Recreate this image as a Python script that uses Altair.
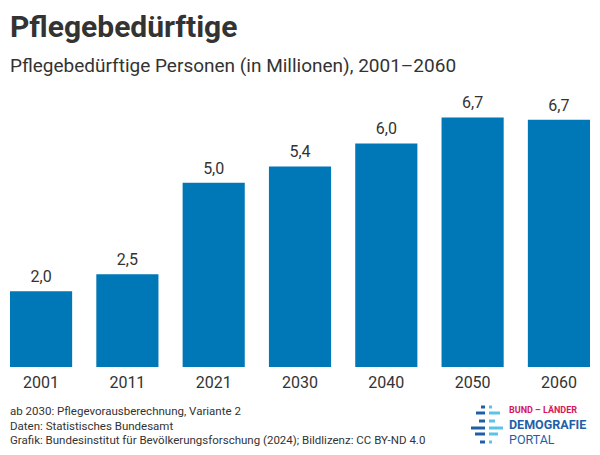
import altair as alt
import pandas as pd

years = ["2001", "2011", "2021", "2030", "2040", "2050", "2060"]
values = [2.04, 2.50, 4.96, 5.40, 6.02, 6.72, 6.66]
labels = [f"{v:.1f}".replace(".", ",") for v in values]

title_text = "Pflegebedürftige"
subtitle_text = "Pflegebedürftige Personen (in Millionen), 2001–2060"
footer_lines = [
    "ab 2030: Pflegevorausberechnung, Variante 2",
    "Daten: Statistisches Bundesamt",
    "Grafik: Bundesinstitut für Bevölkerungsforschung (2024); Bildlizenz: CC BY-ND 4.0",
]

FONT = "Roboto"
TXT = "#333333"
BAR = "#0077b6"

df = pd.DataFrame({"year": years, "value": values, "label": labels})

# plot area origin on page: (10, 107)
OX, OY = 10, 107
W, H = 580, 260

x = alt.X("year:N", sort=years,
          scale=alt.Scale(paddingInner=0.28, paddingOuter=0),
          axis=alt.Axis(title=None, labelAngle=0, domain=False, ticks=False,
                        labelFont=FONT, labelFontSize=16, labelColor=TXT,
                        labelBaseline="alphabetic", labelPadding=20))
y = alt.Y("value:Q", scale=alt.Scale(domain=[0, 7], nice=False, zero=True),
          axis=None)

bars = alt.Chart(df).mark_bar(color=BAR).encode(x=x, y=y)
vals = alt.Chart(df).mark_text(font=FONT, fontSize=16, color=TXT, dy=-9,
                               baseline="alphabetic").encode(x=x, y=y, text="label:N")

one = alt.Data(values=[{}])

def txt(text, px, py, size, weight="normal", color=TXT, align="left"):
    return alt.Chart(one).mark_text(
        text=text, font=FONT, fontSize=size, fontWeight=weight, color=color,
        align=align, baseline="alphabetic"
    ).encode(x=alt.value(px - OX), y=alt.value(py - OY))

layers = [bars, vals,
          txt(title_text, 10, 37, 30, "bold"),
          txt(subtitle_text, 10, 72, 19)]
for i, line in enumerate(footer_lines):
    layers.append(txt(line, 10, 415 + i * 14.5, 11.5))

# logo
dark, light = "#1f5fa8", "#5bc4e6"
logo_rows = [
    (407, 481, 485, 489, 492),
    (413, 476, 485, 489, 500),
    (421, 479, 485, 489, 495),
    (428, 471, 485, 489, 503),
    (434, 475, 485, 489, 498),
    (442, 480, 485, 489, 492),
]
dashes = []
for yy, d0, d1, l0, l1 in logo_rows:
    dashes.append({"x": d0 - OX, "x2": d1 - OX, "y": yy - OY, "c": dark})
    dashes.append({"x": l0 - OX, "x2": l1 - OX, "y": yy - OY, "c": light})
logo = alt.Chart(alt.Data(values=dashes)).mark_rule(strokeWidth=3).encode(
    x=alt.X("x:Q", scale=None), x2="x2:Q", y=alt.Y("y:Q", scale=None),
    color=alt.Color("c:N", scale=None))
layers.append(logo)
layers.append(txt("BUND – LÄNDER", 509, 412.5, 9, "bold", "#d8155d"))
layers.append(txt("DEMOGRAFIE", 509, 429, 12.5, "bold", "#1f5fa8"))
layers.append(txt("PORTAL", 509, 444, 12.5, "normal", "#1f5fa8"))

chart = alt.layer(*layers).properties(
    width=W, height=H,
    background="white",
    autosize=alt.AutoSizeParams(type="none"),
    padding={"left": OX - 8, "top": OY - 8, "right": 2, "bottom": 80},
).configure_view(stroke="transparent", strokeWidth=0)

chart.save("out.html", embed_options={"renderer": "svg", "actions": False})
